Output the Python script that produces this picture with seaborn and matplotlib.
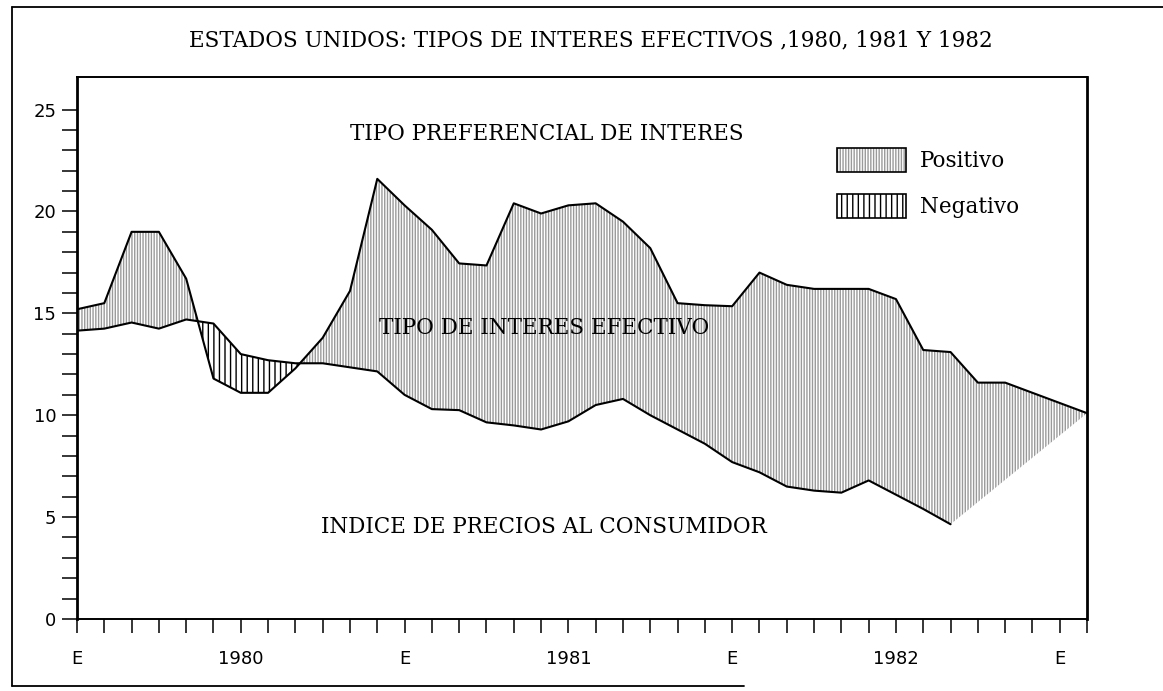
import numpy as np
import pandas as pd
import seaborn as sns
import matplotlib.pyplot as plt
from matplotlib.patches import Patch
from matplotlib.lines import Line2D
from matplotlib.legend_handler import HandlerTuple

# meses desde enero de 1980 (0) hasta febrero de 1983 (37)
months = list(range(38))
prime_rate = [15.2, 15.5, 19.0, 19.0, 16.7, 11.8, 11.1, 11.1, 12.3, 13.8, 16.1, 21.6,
              20.3, 19.1, 17.45, 17.35, 20.4, 19.9, 20.3, 20.4, 19.5, 18.2, 15.5, 15.4,
              15.35, 17.0, 16.4, 16.2, 16.2, 16.2, 15.7, 13.2, 13.1, 11.6, 11.6, 11.1,
              10.6, 10.1]
cpi = [14.15, 14.25, 14.55, 14.25, 14.7, 14.5, 13.0, 12.7, 12.55, 12.55, 12.35, 12.15,
       11.0, 10.3, 10.25, 9.65, 9.5, 9.3, 9.7, 10.5, 10.8, 10.0, 9.3, 8.6,
       7.7, 7.2, 6.5, 6.3, 6.2, 6.8, 6.1, 5.4, 4.65]
x_label_pos = [0, 6, 12, 18, 24, 30, 36]
x_label_text = ['E', '1980', 'E', '1981', 'E', '1982', 'E']
y_label_pos = [0, 5, 10, 15, 20, 25]

sns.set_theme(style='ticks')
plt.rcParams['font.family'] = ['DejaVu Sans']
plt.rcParams['text.color'] = 'black'
plt.rcParams['xtick.color'] = 'black'
plt.rcParams['ytick.color'] = 'black'
plt.rcParams['xtick.labelcolor'] = 'black'
plt.rcParams['ytick.labelcolor'] = 'black'
serif = 'DejaVu Serif'

fig = plt.figure(figsize=(11.63, 6.91), dpi=100)
ax = fig.add_axes([0.0662, 0.1042, 0.8685, 0.7844])

n = len(cpi)
x = np.array(months[:n])
p = np.array(prime_rate[:n])
c = np.array(cpi)

pos_style = dict(facecolor='white', edgecolor='#9a9a9a', hatch='||||||', linewidth=0)
neg_style = dict(facecolor='white', edgecolor='black', hatch='|||', linewidth=0)

ax.fill_between(x, p, c, where=p >= c, interpolate=True, **pos_style)
ax.fill_between(x, p, c, where=p < c, interpolate=True, **neg_style)
# tramo final donde ya no hay dato de precios
ax.fill(months[n - 1:] + [months[n - 1]], prime_rate[n - 1:] + [cpi[-1]], **pos_style)

df_prime = pd.DataFrame({'mes': months, 'tipo': prime_rate})
df_cpi = pd.DataFrame({'mes': months[:n], 'ipc': cpi})
sns.lineplot(data=df_prime, x='mes', y='tipo', color='black', linewidth=1.5, ax=ax)
sns.lineplot(data=df_cpi, x='mes', y='ipc', color='black', linewidth=1.5, ax=ax)

ax.set_xlim(0, 37)
ax.set_ylim(0, 26.6)
ax.set_xlabel('')
ax.set_ylabel('')

month_labels = ['' for m in months]
for pos, txt in zip(x_label_pos, x_label_text):
    month_labels[pos] = txt
ax.set_xticks(months)
ax.set_xticklabels(month_labels)
ax.tick_params(axis='x', which='major', bottom=True, direction='out', length=10, width=1.1,
               pad=12, labelsize=13)

ax.set_yticks(y_label_pos)
ax.set_yticks(range(0, 26), minor=True)
ax.tick_params(axis='y', which='both', left=True, direction='out', length=11, width=1.1,
               pad=4, labelsize=13)

for side in ['left', 'right']:
    ax.spines[side].set_linewidth(2.0)
for side in ['top', 'bottom']:
    ax.spines[side].set_linewidth(1.4)
for s in ax.spines.values():
    s.set_color('black')
    s.set_visible(True)

ax.text(17.2, 23.8, 'TIPO PREFERENCIAL DE INTERES', ha='center', va='center',
        family=serif, fontsize=15.5)
ax.text(17.1, 14.3, 'TIPO DE INTERES EFECTIVO', ha='center', va='center',
        family=serif, fontsize=15.5)
ax.text(17.1, 4.5, 'INDICE DE PRECIOS AL CONSUMIDOR', ha='center', va='center',
        family=serif, fontsize=15.5)

fig.text(0.508, 1 - 40 / 691, 'ESTADOS UNIDOS: TIPOS DE INTERES EFECTIVOS ,1980, 1981 Y 1982',
         ha='center', va='center', family=serif, fontsize=15.5)

h_pos = (Patch(**pos_style), Patch(facecolor='none', edgecolor='black', linewidth=1.2))
h_neg = (Patch(**neg_style), Patch(facecolor='none', edgecolor='black', linewidth=1.2))
ax.legend([h_pos, h_neg], ['Positivo', 'Negativo'],
          handler_map={tuple: HandlerTuple(ndivide=1)},
          loc='upper left', bbox_to_anchor=(826 / 1163, 1 - 137 / 691),
          bbox_transform=fig.transFigure, frameon=False, borderpad=0,
          handlelength=3.2, handleheight=1.35, labelspacing=1.0, handletextpad=0.65,
          prop={'family': serif, 'size': 15.5})

# marco exterior de la página
frame_kw = dict(color='black', linewidth=1.3, transform=fig.transFigure)
fig.add_artist(Line2D([0.0103, 1.0], [0.9899, 0.9899], **frame_kw))
fig.add_artist(Line2D([0.0103, 0.0103], [0.0072, 0.9899], **frame_kw))
fig.add_artist(Line2D([0.0103, 0.64], [0.0072, 0.0072], **frame_kw))

fig.savefig('out.png', dpi=100)
